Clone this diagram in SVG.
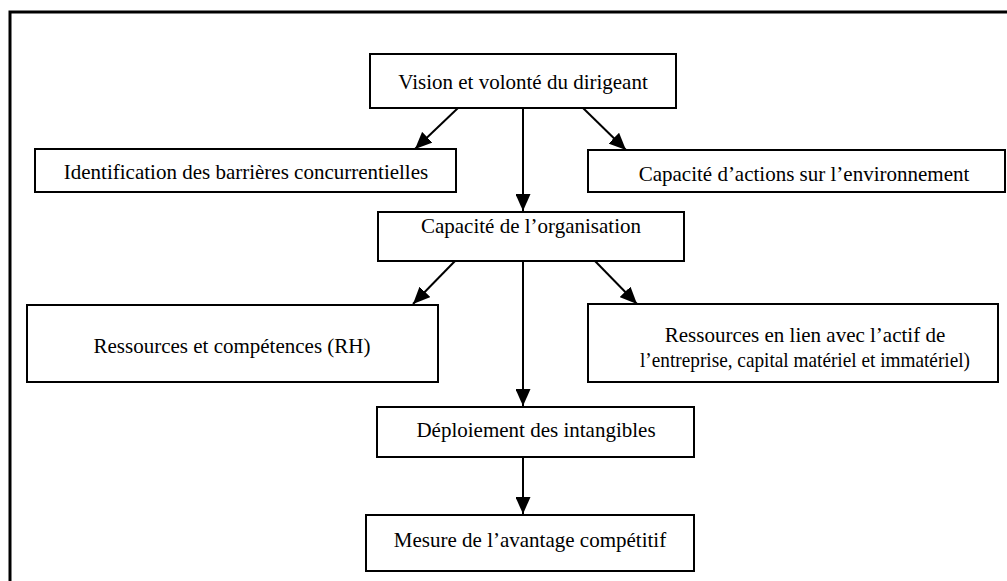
<svg xmlns="http://www.w3.org/2000/svg" width="1007" height="581" viewBox="0 0 1007 581">
<style>
.box{fill:#fff;stroke:#000;stroke-width:2}
.t{font-family:"Liberation Serif","Times New Roman",serif;font-size:21px;fill:#000;text-anchor:middle}
.c{stroke:#000;stroke-width:2;fill:none;marker-end:url(#ah)}
</style>
<defs>
<marker id="ah" markerUnits="userSpaceOnUse" markerWidth="17" markerHeight="15" viewBox="0 0 17 15" refX="17" refY="7.5" orient="auto">
<path d="M0,0 L17,7.5 L0,15 z" fill="#000"/>
</marker>
</defs>
<rect x="10" y="12" width="1010" height="600" fill="#fff" stroke="#000" stroke-width="3"/>
<g id="connectors">
<line class="c" x1="523" y1="108" x2="523" y2="211"/>
<line class="c" x1="458" y1="108" x2="415" y2="149"/>
<line class="c" x1="583" y1="108" x2="626" y2="150"/>
<line class="c" x1="455" y1="261" x2="413" y2="304"/>
<line class="c" x1="595" y1="261" x2="637" y2="304"/>
<line class="c" x1="523" y1="261" x2="523" y2="406"/>
<line class="c" x1="523" y1="457" x2="523" y2="514"/>
</g>
<g id="n1"><rect class="box" x="370" y="54" width="306" height="54"/><text class="t" x="523" y="89">Vision et volonté du dirigeant</text></g>
<g id="n2"><rect class="box" x="35" y="149" width="421" height="43"/><text class="t" x="246" y="179">Identification des barrières concurrentielles</text></g>
<g id="n3"><rect class="box" x="588" y="150" width="417" height="42"/><text class="t" x="804" y="181">Capacité d’actions sur l’environnement</text></g>
<g id="n4"><rect class="box" x="378" y="212" width="306" height="49"/><text class="t" x="531" y="233">Capacité de l’organisation</text></g>
<g id="n5"><rect class="box" x="27" y="305" width="411" height="77"/><text class="t" x="232" y="353">Ressources et compétences (RH)</text></g>
<g id="n6"><rect class="box" x="588" y="304" width="410" height="78"/><text class="t" x="805" y="342">Ressources en lien avec l’actif de</text><text class="t" x="805" y="367" textLength="330" lengthAdjust="spacingAndGlyphs">l’entreprise, capital matériel et immatériel)</text></g>
<g id="n7"><rect class="box" x="377" y="407" width="317" height="50"/><text class="t" x="536" y="437">Déploiement des intangibles</text></g>
<g id="n8"><rect class="box" x="366" y="515" width="328" height="56"/><text class="t" x="530" y="547">Mesure de l’avantage compétitif</text></g>
</svg>
